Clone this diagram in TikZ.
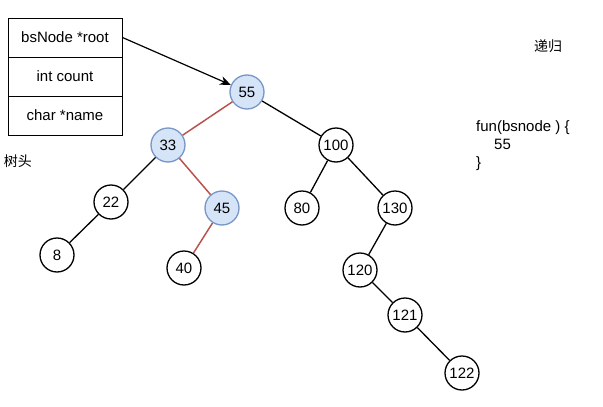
\documentclass[tikz,border=0pt]{standalone}
\usepackage{fontspec}
\setmainfont{Liberation Sans}
\newfontfamily\cjk{Noto Sans CJK SC}
\usetikzlibrary{arrows.meta}
\definecolor{hlfill}{RGB}{214,228,248}
\definecolor{hldraw}{RGB}{120,150,200}
\definecolor{red1}{RGB}{184,84,80}
\begin{document}
\begin{tikzpicture}[x=1pt,y=-1pt,
  n/.style={circle,draw,line width=1.3pt,minimum size=34pt,inner sep=0pt,font=\fontsize{15}{15}\selectfont},
  hl/.style={n,fill=hlfill,draw=hldraw},
  cell/.style={draw,line width=1pt,minimum width=114pt,minimum height=39pt,inner sep=0pt,font=\fontsize{15}{15}\selectfont},
  e/.style={line width=1.3pt},
  re/.style={line width=1.5pt,draw=red1},
  t/.style={font=\fontsize{15}{18}\selectfont,align=left}]
\useasboundingbox (0,0) rectangle (603,407);
\node[cell] (r1) at (65,37.5) {bsNode *root};
\node[cell] (r2) at (65,76.5) {int count};
\node[cell] (r3) at (65,115.5) {char *name};
\node[t,font=\cjk\fontsize{14}{14}\selectfont] (th) at (18,161) {树头};
\node[t,font=\cjk\fontsize{14}{14}\selectfont] (dg) at (548,46) {递归};
\node[t,anchor=north west,inner sep=0pt] (code) at (476,120) {fun(bsnode ) \{\\ \hspace*{18pt}55\\ \}};
\node[hl] (a55) at (247,92) {55};
\node[hl] (a33) at (168,145) {33};
\node[n] (a100) at (336,145) {100};
\node[n] (a22) at (111,202) {22};
\node[hl] (a45) at (222,208) {45};
\node[n] (a80) at (302,208) {80};
\node[n] (a130) at (395,208) {130};
\node[n] (a8) at (57,255) {8};
\node[n] (a40) at (184,268) {40};
\node[n] (a120) at (360,270) {120};
\node[n] (a121) at (405,315) {121};
\node[n] (a122) at (462,373) {122};
\draw[re] (a55) -- (a33);
\draw[re] (a33) -- (a45);
\draw[re] (a45) -- (a40);
\draw[e] (a55) -- (a100);
\draw[e] (a33) -- (a22);
\draw[e] (a22) -- (a8);
\draw[e] (a100) -- (a80);
\draw[e] (a100) -- (a130);
\draw[e] (a130) -- (a120);
\draw[e] (a120) -- (a121);
\draw[e] (a121) -- (a122);
\draw[line width=1.2pt,-{Stealth[length=11pt,width=9pt]}] (r1.east) -- (a55);
\end{tikzpicture}
\end{document}
